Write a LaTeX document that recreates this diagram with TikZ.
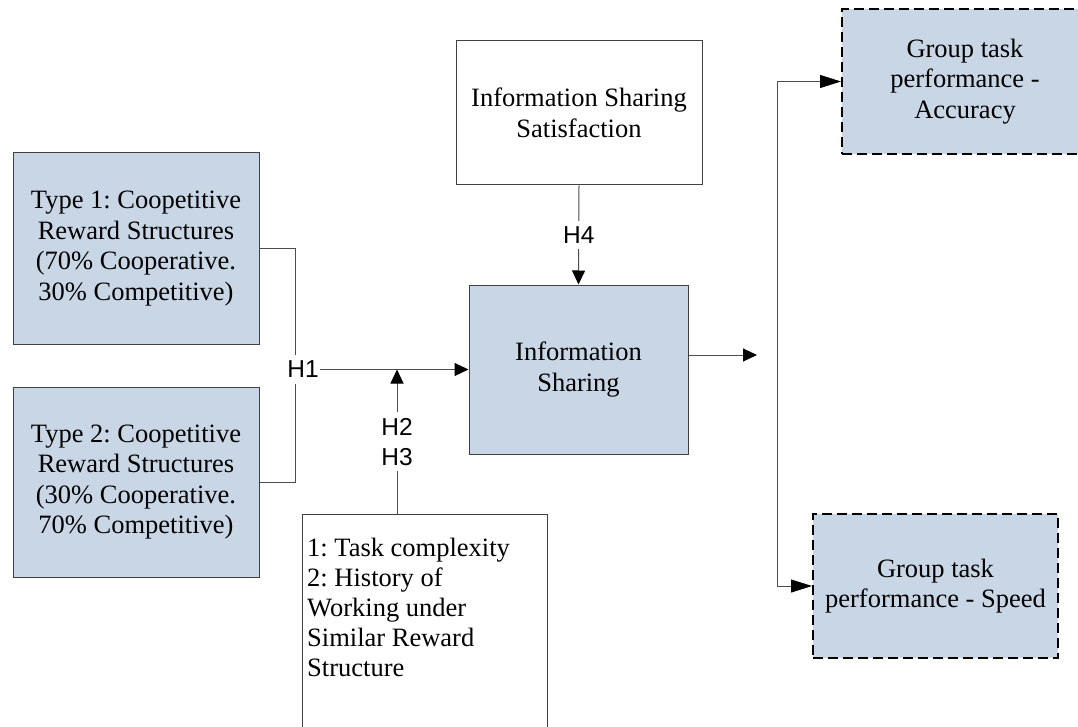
\documentclass[tikz,border=0pt]{standalone}
\usepackage{fontspec}
\setmainfont{Liberation Serif}
\newfontfamily\hlabelfont{Liberation Sans}
\usetikzlibrary{arrows.meta}
\definecolor{boxblue}{RGB}{201,214,229}
\frenchspacing

\tikzset{
    box/.style={draw=black!75, line width=1pt, minimum width=246pt, minimum height=145pt,
        align=center, inner sep=0pt, font=\fontsize{26.5}{30.5}\selectfont},
    bluebox/.style={box, fill=boxblue},
    outcome/.style={box, fill=boxblue, draw=black, line width=2pt, dash pattern=on 10pt off 5pt},
    hlab/.style={fill=white, inner xsep=1pt, inner ysep=6pt, align=center,
        font=\hlabelfont\fontsize{24.5}{30}\selectfont},
    conn/.style={draw=black!70, line width=1pt},
    arr/.style={conn, -{Triangle[length=14pt, width=13pt, color=black]}},
    longarr/.style={conn, -{Triangle[length=21pt, width=13pt, color=black]}}
}

\begin{document}
\begin{tikzpicture}[x=1pt, y=-1pt]
    \useasboundingbox (0,0) rectangle (1078,727);
    \clip (0,0) rectangle (1078,727);
    % reward structures
    \node[bluebox, minimum height=191pt] (type1) at (136,248.5) {Type 1: Coopetitive\\Reward Structures\\(70\% Cooperative.\\30\% Competitive)};
    \node[bluebox, minimum height=190pt] (type2) at (136,482) {Type 2: Coopetitive\\Reward Structures\\(30\% Cooperative.\\70\% Competitive)};
    % middle column
    \node[box, minimum height=144pt] (sat) at (579,113) {Information Sharing\\Satisfaction};
    \node[bluebox, minimum width=219pt, minimum height=169pt] (infoshare) at (578.5,369.5) {Information\\Sharing};
    \node[box, minimum width=245pt, minimum height=240pt, anchor=north west] (task) at (302,514) {};
    \node[anchor=north west, align=left, inner sep=0pt, font=\fontsize{26.5}{30}\selectfont] (tasktext) at (307,538)
        {1: Task complexity\\2: History of\\Working under\\Similar Reward\\Structure};
    % outcomes
    \node[outcome] (accuracy) at (965,81.5) {Group task\\performance -\\Accuracy};
    \node[outcome, minimum width=245pt, minimum height=144pt] (speed) at (935.5,586) {Group task\\performance - Speed};
    \coordinate (join) at (397,369.5);
    \coordinate (out) at (757,355);
    \coordinate (fork) at (777,355);

    \draw[conn] (type1.east) -- ++(36,0) |- (type2.east);
    \node[hlab] (h1) at (303,369.5) {H1};
    \draw[arr] (h1.east) -- (infoshare.west);
    \draw[arr] ([xshift=95pt]task.north west) -- node[hlab] (h23) {H2\\H3} (join);
    \draw[arr] (sat.south) -- node[hlab] (h4) {H4} (infoshare.north);
    \draw[arr] ([yshift=14.5pt]infoshare.east) -- (out);
    \draw[longarr] (fork) |- (accuracy.west);
    \draw[longarr] (fork) |- (speed.west);
\end{tikzpicture}
\end{document}
